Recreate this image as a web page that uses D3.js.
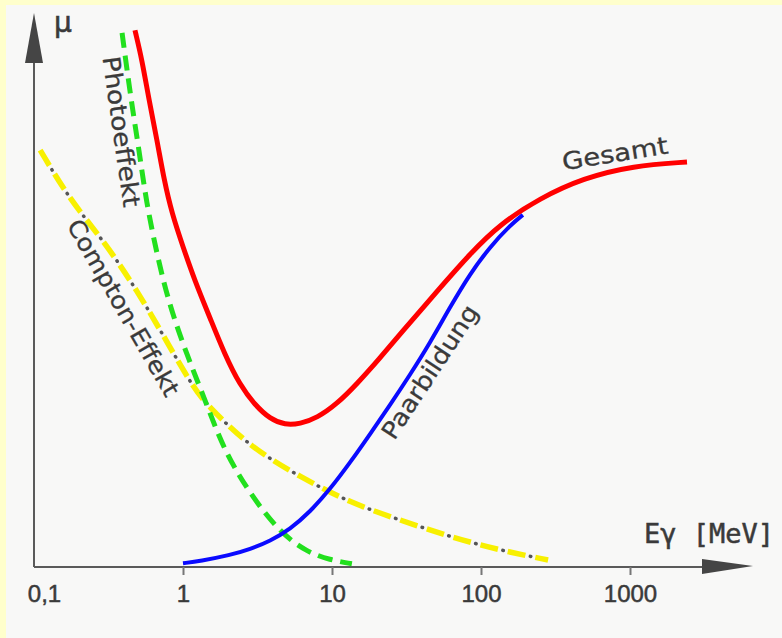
<!DOCTYPE html>
<html><head><meta charset="utf-8">
<script src="https://cdn.jsdelivr.net/npm/d3@7"></script>
<style>html,body{margin:0;padding:0;background:#ffffcc;} svg{display:block}</style>
</head><body><svg id="c" width="782" height="638"></svg>
<script>
// ---- data (energy in MeV, mu in arbitrary units 0..100) ----
const tickValues = [0.1, 1, 10, 100, 1000];
const tickLabels = ["0,1", "1", "10", "100", "1000"];

const photoE  = [0.390, 0.448, 0.507, 0.565, 0.659, 0.793, 1.03, 1.45, 1.85, 2.69, 4.48, 6.79, 9.70, 13.6];
const photoMu = [98.9, 86.5, 77.2, 67.9, 58.7, 49.4, 40.2, 30.0, 22.2, 14.3, 6.3, 2.8, 1.3, 0.6];

const comptonE  = [0.110, 0.174, 0.290, 0.491, 0.818, 1.17, 1.45, 2.82, 6.10, 13.2, 28.6, 61.9, 134, 282];
const comptonMu = [77.2, 68.0, 60.6, 51.3, 40.7, 33.3, 30.0, 22.2, 16.7, 11.9, 8.7, 5.6, 3.1, 1.3];

const pairE  = [1.00, 1.30, 2.07, 2.82, 3.84, 5.23, 7.12, 9.70, 13.2, 18.0, 24.5, 33.4, 45.5, 61.9, 84.4, 115, 157, 191];
const pairMu = [0.7, 1.1, 2.2, 3.3, 4.8, 7.0, 10.2, 14.4, 19.3, 24.6, 30.0, 35.6, 41.5, 48.1, 54.3, 59.3, 63.3, 65.2];

const totalE  = [0.476, 0.531, 0.591, 0.669, 0.746, 0.844, 1.00, 1.20, 1.52, 1.91, 2.41, 3.04, 3.84, 4.84, 6.10, 7.93, 10.8, 14.7, 21.0, 28.6, 53.1, 84.4, 134, 249, 484, 1047, 2413];
const totalMu = [99.4, 93.9, 86.5, 79.1, 71.7, 65.4, 59.3, 53.0, 46.1, 39.3, 33.7, 30.0, 27.4, 26.3, 26.5, 27.6, 30.2, 33.9, 38.7, 43.1, 51.7, 58.0, 63.5, 68.3, 72.0, 74.3, 75.0];

const curveNames = ["Photoeffekt", "Compton-Effekt", "Paarbildung", "Gesamt"];

// ---- drawing ----
const W = 782, H = 638;
const svg = d3.select("#c");
svg.append("rect").attr("width", W).attr("height", H).attr("fill", "#ffffcc");
svg.append("rect").attr("x", 6).attr("y", 5).attr("width", W - 6).attr("height", H - 5).attr("fill", "#f8f8f7");

const x = d3.scaleLog().domain([0.1, 1000]).range([34, 630]);
const y = d3.scaleLinear().domain([0, 100]).range([567, 27]);

const axisCol = "#5a5a5a", textCol = "#3a3a3a";
const x0 = x(0.1), y0 = y(0);

// axes lines + arrows
svg.append("line").attr("x1", x0).attr("x2", 704).attr("y1", y0).attr("y2", y0)
  .attr("stroke", axisCol).attr("stroke-width", 2);
svg.append("path").attr("d", `M${702},${y0 - 8}L${753},${y0 - 1}L${702},${y0 + 7}Z`).attr("fill", "#454545");
svg.append("line").attr("x1", x0).attr("x2", x0).attr("y1", y0).attr("y2", 60)
  .attr("stroke", axisCol).attr("stroke-width", 2);
svg.append("path").attr("d", `M${x0},13L${x0 + 9},63L${x0 - 9},63Z`).attr("fill", "#454545");

const ax = svg.append("g").attr("transform", `translate(0,${y0})`)
  .call(d3.axisBottom(x).tickValues(tickValues).tickSize(8).tickPadding(10)
    .tickFormat((d, i) => tickLabels[i]));
ax.select(".domain").remove();
ax.selectAll(".tick line").attr("stroke", "#777").attr("stroke-width", 2)
  .attr("opacity", (d, i) => i === 0 ? 0 : 1);
ax.selectAll(".tick text").attr("font-family", "Liberation Sans, Arial, sans-serif")
  .attr("font-size", 24).attr("fill", textCol).attr("stroke", textCol).attr("stroke-width", 0.5)
  .attr("dx", (d, i) => i === 0 ? 10 : 0);

// axis titles
svg.append("text").attr("x", 54).attr("y", 32).text("μ")
  .attr("font-family", "DejaVu Sans, sans-serif").attr("font-size", 28)
  .attr("fill", textCol).attr("stroke", textCol).attr("stroke-width", 0.6);
svg.append("text").attr("x", 644).attr("y", 543).text("Eγ [MeV]")
  .attr("font-family", "DejaVu Sans Mono, monospace").attr("font-size", 27)
  .attr("fill", textCol).attr("stroke", textCol).attr("stroke-width", 0.5);

const line = d3.line().x(d => x(d[0])).y(d => y(d[1])).curve(d3.curveBasis);
const zip = (a, b) => a.map((v, i) => [v, b[i]]);

// Compton: yellow dashes with grey dots
svg.append("path").attr("d", line(zip(comptonE, comptonMu))).attr("fill", "none")
  .attr("stroke", "#f8f000").attr("stroke-width", 5.5).attr("stroke-dasharray", "18,10");
svg.append("path").attr("d", line(zip(comptonE, comptonMu))).attr("fill", "none")
  .attr("stroke", "#555").attr("stroke-width", 3.5).attr("stroke-linecap", "round")
  .attr("stroke-dasharray", "0.5,27.5").attr("stroke-dashoffset", 5);
// Photo: green dashed
svg.append("path").attr("d", line(zip(photoE, photoMu))).attr("fill", "none")
  .attr("stroke", "#22e01e").attr("stroke-width", 5).attr("stroke-dasharray", "15,8");
// Pair: blue
svg.append("path").attr("d", line(zip(pairE, pairMu))).attr("fill", "none")
  .attr("stroke", "#0a0aff").attr("stroke-width", 4);
// Total: red
svg.append("path").attr("d", line(zip(totalE, totalMu))).attr("fill", "none")
  .attr("stroke", "#ff0000").attr("stroke-width", 5);

// curve labels (anchored in data space)
const labelE = [0.384, 0.396, 45.5, 793];
const labelMu = [80.6, 48.0, 36.1, 76.5];
const labelAngle = [82, 60, -56.7, -9];
const labelLen = [152, 200, 155, 107];
curveNames.forEach((t, i) => {
  svg.append("text")
    .attr("transform", `translate(${x(labelE[i])},${y(labelMu[i])}) rotate(${labelAngle[i]})`)
    .attr("text-anchor", "middle").attr("dominant-baseline", "central")
    .attr("font-family", "DejaVu Sans, sans-serif").attr("font-size", 24)
    .attr("fill", textCol).attr("stroke", textCol).attr("stroke-width", 0.3)
    .attr("textLength", labelLen[i]).attr("lengthAdjust", "spacingAndGlyphs")
    .text(t);
});
</script></body></html>
